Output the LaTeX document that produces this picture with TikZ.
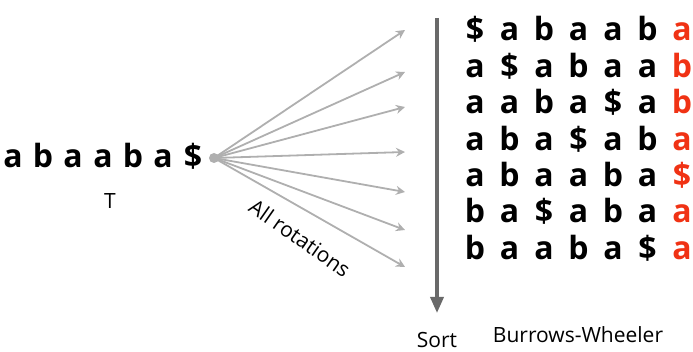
\documentclass[tikz,border=0pt]{standalone}
\usepackage{fontspec}
\setmainfont{Open Sans}
\usetikzlibrary{arrows.meta}

\definecolor{bwtred}{RGB}{240,50,20}
\definecolor{fangray}{RGB}{175,175,175}
\definecolor{sortgray}{RGB}{105,105,105}

\begin{document}
\begin{tikzpicture}[x=1pt,y=-1pt,
  letter/.style={font=\fontsize{32}{32}\selectfont\bfseries, anchor=base, inner sep=0pt},
  caption/.style={font=\fontsize{21}{21}\selectfont, inner sep=0pt},
  fan/.style={fangray, line width=1.8pt, -{Stealth[length=9pt,width=9pt]}}]
  \useasboundingbox (0,0) rectangle (693,352);

  % the text T
  \foreach \ch [count=\i] in {a,b,a,a,b,a,\$}
    \node[letter] (t\i) at ({13+30*(\i-1)},168) {\ch};
  \node[caption, anchor=base] (tlabel) at (110,209) {T};

  % all rotations
  \node[circle, fill=fangray, inner sep=0pt, minimum size=10pt] (src) at (214,158) {};
  \foreach \y [count=\i] in {30,72,107,152,192,230,267}
    \coordinate (rot\i) at (405,\y);
  \foreach \i in {1,...,7}
    \draw[fan] (src.center) -- (rot\i);
  \node[caption, rotate=-35] (allrot) at (300,238) {All rotations};

  % sorted rotations
  \foreach \row [count=\r] in {{\$,a,b,a,a,b},{a,\$,a,b,a,a},{a,a,b,a,\$,a},{a,b,a,\$,a,b},{a,b,a,a,b,a},{b,a,\$,a,b,a},{b,a,a,b,a,\$}}
    \foreach \ch [count=\c] in \row
      \node[letter] (m\r\c) at ({475+34.5*(\c-1)},{41+36.4*(\r-1)}) {\ch};
  % last column = BWT
  \foreach \ch [count=\r] in {a,b,b,a,\$,a,a}
    \node[letter, text=bwtred] (bwt\r) at (682,{41+36.4*(\r-1)}) {\ch};

  % sort arrow
  \coordinate (sorttop) at (437,18);
  \coordinate (sortend) at (437,313);
  \draw[sortgray, line width=3.5pt, -{Triangle[length=16pt,width=13pt]}] (sorttop) -- (sortend);
  \node[caption] (sort) at (437,340) {Sort};
  \node[caption] (bwlabel) at (578,335) {Burrows-Wheeler};
\end{tikzpicture}
\end{document}
